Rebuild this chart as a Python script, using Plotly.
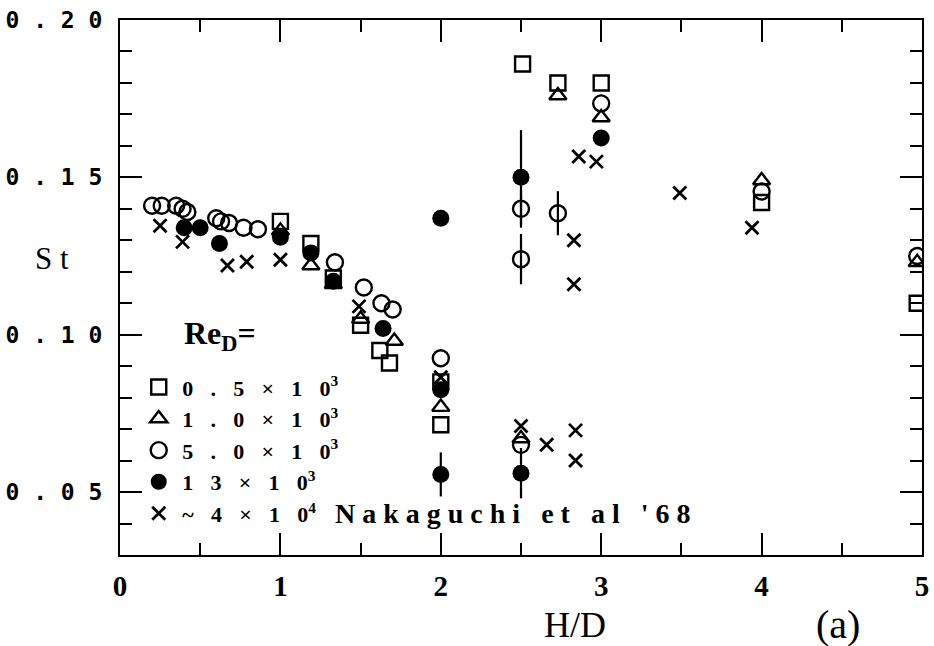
import plotly.graph_objects as go

# ---- data: Strouhal number St versus gap ratio H/D for several Re_D ----
sq_x = [1.0, 1.19, 1.33, 1.50, 1.62, 1.68, 2.0, 2.0, 2.51, 2.73, 3.0, 4.0, 4.97]
sq_y = [0.136, 0.129, 0.118, 0.103, 0.095, 0.091, 0.085, 0.0714, 0.186, 0.180, 0.180, 0.142, 0.110]

tri_x = [1.0, 1.19, 1.33, 1.50, 1.71, 2.0, 2.5, 2.73, 3.0, 4.0, 4.97]
tri_y = [0.133, 0.122, 0.116, 0.105, 0.098, 0.077, 0.067, 0.176, 0.169, 0.149, 0.123]

circ_x = [0.20, 0.26, 0.35, 0.39, 0.42, 0.60, 0.63, 0.68, 0.77, 0.86, 1.34, 1.52, 1.63,
          1.70, 2.0, 2.5, 2.5, 2.5, 2.73, 3.0, 4.0, 4.97]
circ_y = [0.141, 0.141, 0.141, 0.140, 0.139, 0.137, 0.136, 0.1355, 0.134, 0.1335, 0.123,
          0.115, 0.110, 0.108, 0.0925, 0.140, 0.124, 0.065, 0.1386, 0.1735, 0.1455, 0.125]
circ_err = [0, 0, 0, 0, 0, 0, 0, 0, 0, 0, 0, 0, 0, 0, 0, 0.006, 0.008, 0, 0.007, 0, 0, 0]

fill_x = [0.40, 0.50, 0.62, 1.0, 1.19, 1.33, 1.64, 2.0, 2.0, 2.0, 2.5, 2.5, 3.0]
fill_y = [0.134, 0.134, 0.129, 0.131, 0.126, 0.117, 0.102, 0.137, 0.0825, 0.0556, 0.150,
          0.056, 0.1625]
fill_err = [0, 0, 0, 0, 0, 0, 0, 0.002, 0, 0.007, 0.015, 0.008, 0]

x_x = [0.25, 0.39, 0.67, 0.79, 1.0, 1.49, 2.0, 2.5, 2.66, 2.84, 2.84, 2.83, 2.83, 2.86,
       2.97, 3.49, 3.94]
x_y = [0.1346, 0.1295, 0.122, 0.1232, 0.1238, 0.109, 0.0865, 0.071, 0.065, 0.0696, 0.060,
       0.130, 0.116, 0.1566, 0.155, 0.145, 0.134]

SP = "\u2002\u2009\u200a"  # en + thin + hair space, widens the typewriter-like labels
series_names = [
    SP.join(["0", ".", "5", "×", "1", "0"]) + "<sup>3</sup>",
    SP.join(["1", ".", "0", "×", "1", "0"]) + "<sup>3</sup>",
    SP.join(["5", ".", "0", "×", "1", "0"]) + "<sup>3</sup>",
    SP.join(["1", "3", "×", "1", "0"]) + "<sup>3</sup>",
    SP.join(["~", "4", "×", "1", "0"]) + "<sup>4</sup>",
]

y_ticks = [0.05, 0.10, 0.15, 0.20]
y_tick_text = ["0 . 0 5", "0 . 1 0", "0 . 1 5", "0 . 2 0"]
x_ticks = [0, 1, 2, 3, 4, 5]

BLACK = "black"
NB = "\u00a0"

fig = go.Figure()

fig.add_trace(go.Scatter(
    x=sq_x, y=sq_y, mode="markers", name=series_names[0],
    marker=dict(symbol="square-open", size=15, color=BLACK, line=dict(width=2.4, color=BLACK))))
fig.add_trace(go.Scatter(
    x=tri_x, y=tri_y, mode="markers", name=series_names[1],
    marker=dict(symbol="triangle-up-open", size=15, color=BLACK, line=dict(width=2.4, color=BLACK))))
fig.add_trace(go.Scatter(
    x=circ_x, y=circ_y, mode="markers", name=series_names[2],
    error_y=dict(type="data", array=circ_err, visible=True, width=0, thickness=2.2, color=BLACK),
    marker=dict(symbol="circle-open", size=16, color=BLACK, line=dict(width=2.4, color=BLACK))))
fig.add_trace(go.Scatter(
    x=fill_x, y=fill_y, mode="markers", name=series_names[3],
    error_y=dict(type="data", array=fill_err, visible=True, width=0, thickness=2.2, color=BLACK),
    marker=dict(symbol="circle", size=17, color=BLACK, line=dict(width=0))))
fig.add_trace(go.Scatter(
    x=x_x, y=x_y, mode="markers", name=series_names[4],
    marker=dict(symbol="x-thin", size=13, color=BLACK, line=dict(width=2.8, color=BLACK))))

axis_common = dict(
    showline=True, linewidth=2, linecolor=BLACK, mirror="allticks",
    ticks="inside", tickwidth=2, tickcolor=BLACK, ticklen=22,
    showgrid=False, zeroline=False, automargin=False,
)

fig.update_xaxes(
    range=[0, 5], tickvals=x_ticks, ticktext=[str(v) for v in x_ticks],
    tickfont=dict(family="Liberation Serif", size=29, color=BLACK, weight="bold"),
    ticklabelstandoff=4,
    minor=dict(ticks="inside", tickmode="linear", tick0=0, dtick=0.5, ticklen=12,
               tickwidth=2, tickcolor=BLACK, showgrid=False),
    **axis_common)

fig.update_yaxes(
    range=[0.03, 0.20], tickvals=y_ticks, ticktext=y_tick_text,
    tickfont=dict(family="DejaVu Sans Mono", size=23, color=BLACK, weight="bold"),
    ticklabelstandoff=11,
    minor=dict(ticks="inside", tickmode="linear", tick0=0, dtick=0.01, ticklen=12,
               tickwidth=2, tickcolor=BLACK, showgrid=False),
    **axis_common)

nakaguchi = (" ".join("Nakaguchi") + NB * 3 + " ".join("et") + NB * 3 +
             " ".join("al") + NB * 3 + " ".join("'68"))

fig.update_layout(
    width=934, height=646,
    margin=dict(l=120, r=12, t=20, b=91),
    paper_bgcolor="white", plot_bgcolor="white",
    showlegend=True,
    legend=dict(x=0.019, y=0.353, xanchor="left", yanchor="top",
                bgcolor="rgba(0,0,0,0)", borderwidth=0,
                font=dict(family="Liberation Serif", size=22, color=BLACK, weight="bold"),
                tracegroupgap=0, itemwidth=37),
    annotations=[
        dict(text="Re<sub>D</sub>=", xref="paper", yref="paper", x=0.077, y=0.411,
             xanchor="left", yanchor="middle", showarrow=False,
             font=dict(family="Liberation Serif", size=32, color=BLACK, weight="bold")),
        dict(text=nakaguchi, xref="paper", yref="paper",
             x=0.265, y=0.0785, xanchor="left", yanchor="middle", showarrow=False,
             font=dict(family="Liberation Serif", size=28, color=BLACK, weight="bold")),
        dict(text="S t", xref="paper", yref="paper", x=-0.085, y=0.555,
             xanchor="center", yanchor="middle", showarrow=False,
             font=dict(family="Liberation Serif", size=31, color=BLACK)),
        dict(text="H/D", xref="paper", yref="paper", x=0.567, y=-0.13,
             xanchor="center", yanchor="middle", showarrow=False,
             font=dict(family="Liberation Serif", size=36, color=BLACK)),
        dict(text="(a)", xref="paper", yref="paper", x=0.895, y=-0.13,
             xanchor="center", yanchor="middle", showarrow=False,
             font=dict(family="Liberation Serif", size=40, color=BLACK)),
    ],
)

fig.write_html("out.html")
